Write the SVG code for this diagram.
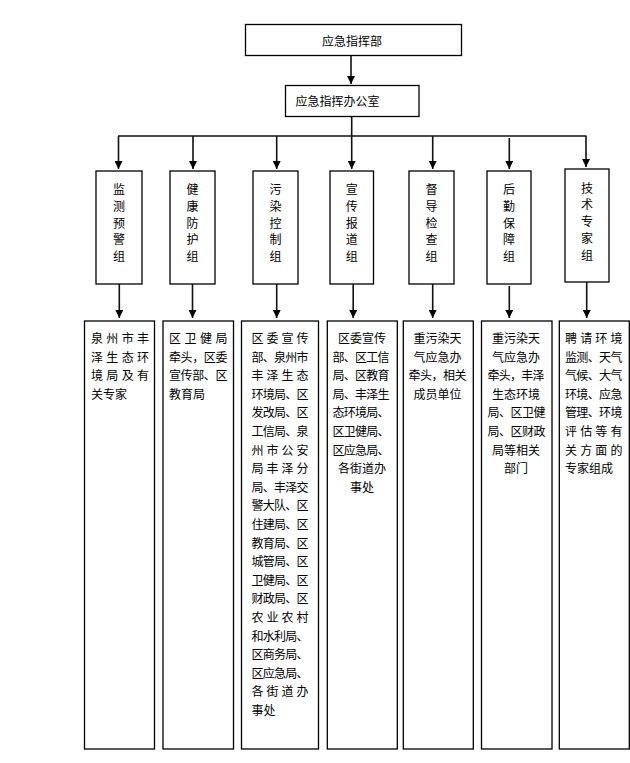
<svg xmlns="http://www.w3.org/2000/svg" width="630" height="763" viewBox="0 0 630 763">
<style>
  .box { fill: #fff; stroke: #000; stroke-width: 1.3; }
  .t { font-family: "Noto Sans CJK SC", "Noto Sans CJK TC", sans-serif; font-size: 12px; fill: #000; }
  .c { text-anchor: middle; }
  .ln { stroke: #111; stroke-width: 1.6; fill: none; }
</style>
<defs>
  <marker id="ah" markerUnits="userSpaceOnUse" markerWidth="8" markerHeight="8" refX="8" refY="4" orient="auto" viewBox="0 0 8 8">
    <path d="M0,0 L8,4 L0,8 Z" fill="#000"/>
  </marker>
</defs>

<g id="connectors">
  <line class="ln" x1="351" y1="55" x2="351" y2="84" marker-end="url(#ah)"/>
  <line class="ln" x1="351.7" y1="116" x2="351.7" y2="136"/>
  <line class="ln" x1="118" y1="136" x2="586.5" y2="136"/>
  <line class="ln" x1="118.5" y1="136" x2="118.5" y2="169" marker-end="url(#ah)"/>
  <line class="ln" x1="193" y1="136" x2="193" y2="169" marker-end="url(#ah)"/>
  <line class="ln" x1="276.7" y1="136" x2="276.7" y2="169" marker-end="url(#ah)"/>
  <line class="ln" x1="351.7" y1="136" x2="351.7" y2="169" marker-end="url(#ah)"/>
  <line class="ln" x1="432.7" y1="136" x2="432.7" y2="169" marker-end="url(#ah)"/>
  <line class="ln" x1="509.3" y1="138" x2="509.3" y2="169" marker-end="url(#ah)"/>
  <line class="ln" x1="586" y1="136" x2="586" y2="167" marker-end="url(#ah)"/>

  <line class="ln" x1="119.3" y1="284" x2="119.3" y2="318" marker-end="url(#ah)"/>
  <line class="ln" x1="192.5" y1="284" x2="192.5" y2="318" marker-end="url(#ah)"/>
  <line class="ln" x1="276.7" y1="284" x2="276.7" y2="318" marker-end="url(#ah)"/>
  <line class="ln" x1="353.2" y1="284" x2="353.2" y2="318" marker-end="url(#ah)"/>
  <line class="ln" x1="432.7" y1="284" x2="432.7" y2="318" marker-end="url(#ah)"/>
  <line class="ln" x1="509.3" y1="286" x2="509.3" y2="318" marker-end="url(#ah)"/>
  <line class="ln" x1="586.7" y1="282" x2="586.7" y2="318" marker-end="url(#ah)"/>
</g>

<g id="hq">
  <rect class="box" x="245.5" y="24.5" width="216" height="31"/>
  <text class="t c" x="352" y="46">应急指挥部</text>
</g>
<g id="office">
  <rect class="box" x="285.5" y="85.5" width="133.5" height="31"/>
  <text class="t" x="295.5" y="106">应急指挥办公室</text>
</g>

<g id="g1">
  <rect class="box" x="96" y="171" width="46" height="113"/>
  <text class="t c" x="119" y="194">监</text>
  <text class="t c" x="119" y="210.8">测</text>
  <text class="t c" x="119" y="227.6">预</text>
  <text class="t c" x="119" y="244.4">警</text>
  <text class="t c" x="119" y="261.2">组</text>
</g>
<g id="g2">
  <rect class="box" x="170" y="171" width="45" height="113"/>
  <text class="t c" x="192.5" y="194">健</text>
  <text class="t c" x="192.5" y="210.8">康</text>
  <text class="t c" x="192.5" y="227.6">防</text>
  <text class="t c" x="192.5" y="244.4">护</text>
  <text class="t c" x="192.5" y="261.2">组</text>
</g>
<g id="g3">
  <rect class="box" x="253" y="171" width="45" height="113"/>
  <text class="t c" x="275.5" y="194">污</text>
  <text class="t c" x="275.5" y="210.8">染</text>
  <text class="t c" x="275.5" y="227.6">控</text>
  <text class="t c" x="275.5" y="244.4">制</text>
  <text class="t c" x="275.5" y="261.2">组</text>
</g>
<g id="g4">
  <rect class="box" x="330" y="171" width="43.5" height="113"/>
  <text class="t c" x="351.7" y="194">宣</text>
  <text class="t c" x="351.7" y="210.8">传</text>
  <text class="t c" x="351.7" y="227.6">报</text>
  <text class="t c" x="351.7" y="244.4">道</text>
  <text class="t c" x="351.7" y="261.2">组</text>
</g>
<g id="g5">
  <rect class="box" x="409" y="171" width="45" height="113"/>
  <text class="t c" x="431.5" y="194">督</text>
  <text class="t c" x="431.5" y="210.8">导</text>
  <text class="t c" x="431.5" y="227.6">检</text>
  <text class="t c" x="431.5" y="244.4">查</text>
  <text class="t c" x="431.5" y="261.2">组</text>
</g>
<g id="g6">
  <rect class="box" x="487" y="171" width="44" height="113"/>
  <text class="t c" x="509" y="194">后</text>
  <text class="t c" x="509" y="210.8">勤</text>
  <text class="t c" x="509" y="227.6">保</text>
  <text class="t c" x="509" y="244.4">障</text>
  <text class="t c" x="509" y="261.2">组</text>
</g>
<g id="g7">
  <rect class="box" x="565" y="169" width="44" height="113"/>
  <text class="t c" x="587" y="192.5">技</text>
  <text class="t c" x="587" y="209.3">术</text>
  <text class="t c" x="587" y="226.1">专</text>
  <text class="t c" x="587" y="242.9">家</text>
  <text class="t c" x="587" y="259.7">组</text>
</g>

<g id="d1">
  <rect class="box" x="84.5" y="321" width="70" height="428"/>
  <text class="t" x="91" y="343" textLength="58" lengthAdjust="spacing">泉州市丰</text>
  <text class="t" x="91" y="361.6" textLength="58" lengthAdjust="spacing">泽生态环</text>
  <text class="t" x="91" y="380.2" textLength="58" lengthAdjust="spacing">境局及有</text>
  <text class="t" x="91" y="398.8">关专家</text>
</g>
<g id="d2">
  <rect class="box" x="163" y="321" width="70.5" height="428"/>
  <text class="t" x="169" y="343" textLength="58.5" lengthAdjust="spacing">区卫健局</text>
  <text class="t" x="169" y="361.6" textLength="58.5" lengthAdjust="spacing">牵头，区委</text>
  <text class="t" x="169" y="380.2" textLength="58.5" lengthAdjust="spacing">宣传部、区</text>
  <text class="t" x="169" y="398.8">教育局</text>
</g>
<g id="d3">
  <rect class="box" x="241.5" y="321" width="77" height="428"/>
  <text class="t" x="251.5" y="343" textLength="57" lengthAdjust="spacing">区委宣传</text>
  <text class="t" x="251.5" y="361.6" textLength="57" lengthAdjust="spacing">部、泉州市</text>
  <text class="t" x="251.5" y="380.2" textLength="57" lengthAdjust="spacing">丰泽生态</text>
  <text class="t" x="251.5" y="398.8" textLength="57" lengthAdjust="spacing">环境局、区</text>
  <text class="t" x="251.5" y="417.4" textLength="57" lengthAdjust="spacing">发改局、区</text>
  <text class="t" x="251.5" y="436" textLength="57" lengthAdjust="spacing">工信局、泉</text>
  <text class="t" x="251.5" y="454.6" textLength="57" lengthAdjust="spacing">州市公安</text>
  <text class="t" x="251.5" y="473.2" textLength="57" lengthAdjust="spacing">局丰泽分</text>
  <text class="t" x="251.5" y="491.8" textLength="57" lengthAdjust="spacing">局、丰泽交</text>
  <text class="t" x="251.5" y="510.4" textLength="57" lengthAdjust="spacing">警大队、区</text>
  <text class="t" x="251.5" y="529" textLength="57" lengthAdjust="spacing">住建局、区</text>
  <text class="t" x="251.5" y="547.6" textLength="57" lengthAdjust="spacing">教育局、区</text>
  <text class="t" x="251.5" y="566.2" textLength="57" lengthAdjust="spacing">城管局、区</text>
  <text class="t" x="251.5" y="584.8" textLength="57" lengthAdjust="spacing">卫健局、区</text>
  <text class="t" x="251.5" y="603.4" textLength="57" lengthAdjust="spacing">财政局、区</text>
  <text class="t" x="251.5" y="622" textLength="57" lengthAdjust="spacing">农业农村</text>
  <text class="t" x="251.5" y="640.6" textLength="57" lengthAdjust="spacing">和水利局、</text>
  <text class="t" x="251.5" y="659.2" textLength="57" lengthAdjust="spacing">区商务局、</text>
  <text class="t" x="251.5" y="677.8" textLength="57" lengthAdjust="spacing">区应急局、</text>
  <text class="t" x="251.5" y="696.4" textLength="57" lengthAdjust="spacing">各街道办</text>
  <text class="t" x="251.5" y="715">事处</text>
</g>
<g id="d4">
  <rect class="box" x="327.3" y="321" width="70" height="428"/>
  <text class="t c" x="362" y="343">区委宣传</text>
  <text class="t c" x="361" y="361.6" textLength="57" lengthAdjust="spacing">部、区工信</text>
  <text class="t c" x="361" y="380.2" textLength="57" lengthAdjust="spacing">局、区教育</text>
  <text class="t c" x="361" y="398.8" textLength="57" lengthAdjust="spacing">局、丰泽生</text>
  <text class="t c" x="361" y="417.4" textLength="57" lengthAdjust="spacing">态环境局、</text>
  <text class="t c" x="361" y="436" textLength="57" lengthAdjust="spacing">区卫健局、</text>
  <text class="t c" x="361" y="454.6" textLength="57" lengthAdjust="spacing">区应急局、</text>
  <text class="t c" x="362" y="473.2">各街道办</text>
  <text class="t c" x="362" y="491.8">事处</text>
</g>
<g id="d5">
  <rect class="box" x="403.3" y="321" width="70" height="428"/>
  <text class="t c" x="437.5" y="343">重污染天</text>
  <text class="t c" x="437.5" y="361.6">气应急办</text>
  <text class="t c" x="437.5" y="380.2" textLength="58" lengthAdjust="spacing">牵头，相关</text>
  <text class="t c" x="437.5" y="398.8">成员单位</text>
</g>
<g id="d6">
  <rect class="box" x="481.5" y="321" width="70.5" height="428"/>
  <text class="t c" x="516" y="343">重污染天</text>
  <text class="t c" x="516" y="361.6">气应急办</text>
  <text class="t c" x="516" y="380.2" textLength="57" lengthAdjust="spacing">牵头，丰泽</text>
  <text class="t c" x="516" y="398.8">生态环境</text>
  <text class="t c" x="516.5" y="417.4" textLength="58" lengthAdjust="spacing">局、区卫健</text>
  <text class="t c" x="516.5" y="436" textLength="58" lengthAdjust="spacing">局、区财政</text>
  <text class="t c" x="516" y="454.6">局等相关</text>
  <text class="t c" x="516" y="473.2">部门</text>
</g>
<g id="d7">
  <rect class="box" x="559.3" y="321" width="70" height="428"/>
  <text class="t" x="565" y="343" textLength="57.5" lengthAdjust="spacing">聘请环境</text>
  <text class="t" x="565" y="361.6" textLength="57.5" lengthAdjust="spacing">监测、天气</text>
  <text class="t" x="565" y="380.2" textLength="57.5" lengthAdjust="spacing">气候、大气</text>
  <text class="t" x="565" y="398.8" textLength="57.5" lengthAdjust="spacing">环境、应急</text>
  <text class="t" x="565" y="417.4" textLength="57.5" lengthAdjust="spacing">管理、环境</text>
  <text class="t" x="565" y="436" textLength="57.5" lengthAdjust="spacing">评估等有</text>
  <text class="t" x="565" y="454.6" textLength="57.5" lengthAdjust="spacing">关方面的</text>
  <text class="t" x="565" y="473.2">专家组成</text>
</g>
</svg>
